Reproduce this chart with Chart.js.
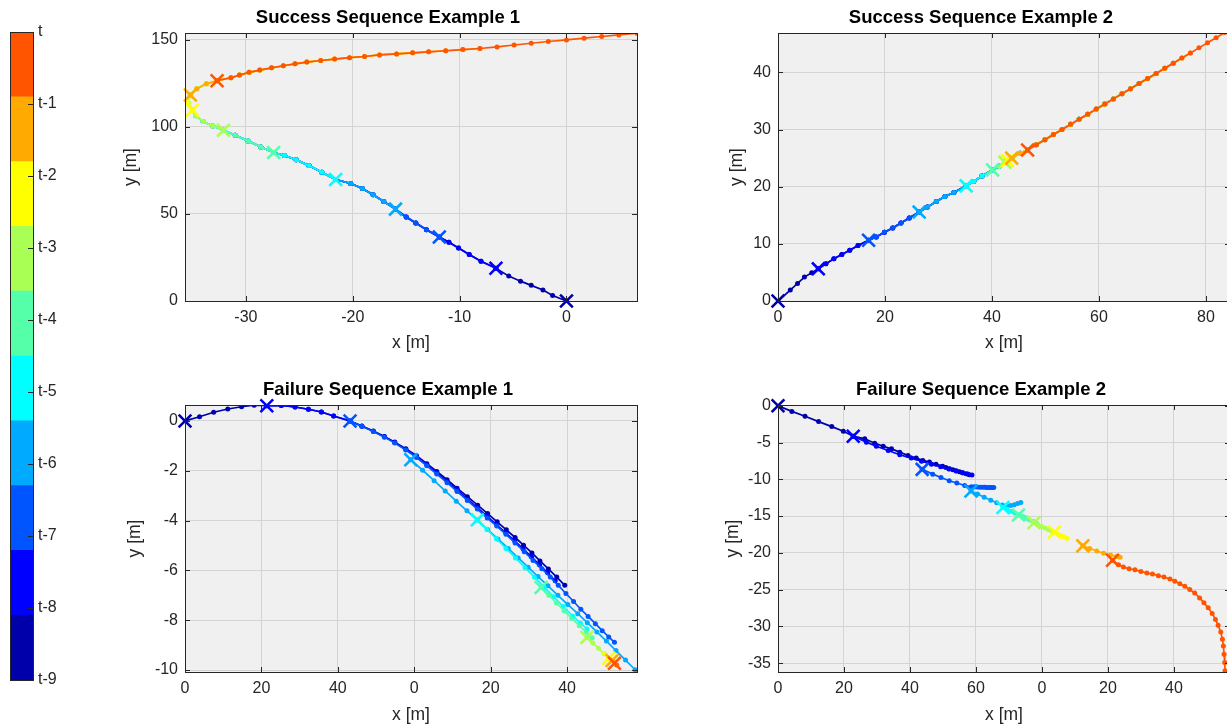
<!DOCTYPE html>
<html>
<head>
<meta charset="utf-8">
<script src="https://cdn.jsdelivr.net/npm/chart.js@4.4.1/dist/chart.umd.min.js"></script>
<style>
  body { margin: 0; background: #fff; overflow: hidden; }
  #fig { position: relative; width: 1227px; height: 727px; overflow: hidden; }
  canvas { position: absolute; }
</style>
</head>
<body>
<div id="fig">
  <canvas id="cb" width="110" height="727" style="left:0;top:0"></canvas>
  <canvas id="s1" width="576" height="360" style="left:100px;top:0"></canvas>
  <canvas id="s2" width="576" height="360" style="left:693px;top:0"></canvas>
  <canvas id="f1" width="576" height="355" style="left:100px;top:372px"></canvas>
  <canvas id="f2" width="576" height="355" style="left:693px;top:372px"></canvas>
</div>
<script>
// couleurs "jet" de t-9 (bas) à t (haut)
const jetColors = ['#0000AA', '#0000FF', '#0055FF', '#00AAFF', '#00FFFF', '#55FFAA', '#AAFF55', '#FFFF00', '#FFAA00', '#FF5500'];
const cbLabels = ['t-9', 't-8', 't-7', 't-6', 't-5', 't-4', 't-3', 't-2', 't-1', 't'];
const cbTickVals = [0, 1, 2, 3, 4, 5, 6, 7, 8, 9];
const cbSteps = [0.9, 0.9, 0.9, 0.9, 0.9, 0.9, 0.9, 0.9, 0.9, 0.9];

// --- Success Sequence Example 1 : trajet commun + début/fin de chaque prédiction
const s1PathX = [0, -1.3, -2.2, -3.3, -4.3, -5.4, -6.6, -8.0, -9.1, -10.1, -11.0, -11.9, -13.1, -14.1, -15.0, -16.0, -17.1, -18.1, -19.1, -20.2, -21.6, -22.9, -24.1, -25.3, -26.4, -27.4, -28.6, -29.8, -31.0, -32.1, -33.1, -34.0, -34.7, -35.0, -35.4, -35.2, -34.6, -33.7, -32.7, -31.4, -30.6, -29.7, -28.7, -27.6, -26.5, -25.4, -24.3, -23.0, -21.7, -20.3, -18.9, -17.5, -15.9, -14.4, -12.9, -11.3, -9.7, -8.1, -6.5, -4.9, -3.3, -1.7, 0, 1.65, 3.3, 4.9, 6.6, 8.3];
const s1PathY = [0, 3.2, 6.3, 9, 11.4, 14.3, 18.8, 22.9, 26.7, 30.4, 33.7, 36.8, 41, 44.8, 48.3, 52.8, 57.2, 61, 64.6, 67.5, 69.8, 74.0, 77.8, 81.2, 83.6, 85.3, 88.5, 92.0, 95.2, 98.1, 100.6, 103.2, 106.4, 109.6, 113.5, 118.4, 122, 124.8, 126.6, 128.3, 129.8, 131.4, 132.7, 134, 135.2, 136.3, 137.3, 138.2, 139, 139.8, 140.5, 141.4, 142, 142.6, 143.2, 143.8, 144.5, 145.1, 146, 147.1, 148.1, 149.1, 150, 151, 152, 152.9, 153.9, 154.9];
const s1Start = [0, 6, 11, 15, 20, 25, 29, 33, 35, 38];
const s1End = [24, 28, 31, 34, 37, 42, 47, 53, 57, 67];
const s1XTicks = [-30, -20, -10, 0];
const s1YTicks = [0, 50, 100, 150];

// --- Success Sequence Example 2
const s2PathX = [0, 2.3, 3.65, 4.94, 6.3, 7.54, 8.96, 10.44, 11.93, 13.41, 14.96, 16.93, 18.36, 19.9, 21.45, 22.99, 24.54, 26.39, 27.94, 29.6, 31.21, 32.88, 35.17, 36.59, 38.13, 40.11, 41.3, 42.4, 42.9, 43.7, 45.24, 46.66, 48.3, 49.9, 51.5, 53.1, 54.7, 56.3, 57.9, 59.5, 61.1, 62.7, 64.3, 65.9, 67.5, 69.1, 70.7, 72.3, 73.9, 75.5, 77.1, 78.7, 80.3, 81.9, 83.5, 85.1];
const s2PathY = [0, 1.92, 3.08, 4.18, 4.94, 5.63, 6.5, 7.38, 8.13, 8.88, 9.7, 10.63, 11.21, 12.02, 12.78, 13.65, 14.52, 15.56, 16.43, 17.42, 18.29, 18.99, 20.15, 20.91, 21.89, 22.94, 23.6, 24.3, 24.6, 25.0, 25.84, 26.42, 27.34, 28.23, 29.12, 30.01, 30.91, 31.8, 32.69, 33.58, 34.48, 35.37, 36.26, 37.16, 38.05, 38.94, 39.83, 40.73, 41.62, 42.51, 43.4, 44.3, 45.19, 46.08, 46.97, 47.87];
const s2Start = [0, 5, 11, 17, 22, 25, 27, 28, 29, 31];
const s2End = [30, 40, 48, 46, 44, 45, 47, 49, 50, 55];
const s2XTicks = [0, 20, 40, 60, 80];
const s2YTicks = [0, 10, 20, 30, 40];

// --- Failure Sequence Example 1 : une liste par pas de temps (t-9 ... t)
const f1Xs = [
    [0, 3.8, 7.5, 11.2, 14.8, 18.1, 21.4, 25.2, 28.8, 32.3, 35.7, 38.9, 43.2, 46.3, 49.3, 52.2, 54.9, 57.8, 60.6, 63.3, 65.9, 68.6, 71.2, 73.9, 76.6, 79.2, 81.7, 84.1, 86.4, 88.6, 90.8, 92.9, 95.1, 97.3, 99.4],
    [21.4, 25.2, 28.8, 32.3, 35.7, 38.9, 43.2, 46.3, 49.3, 52.2, 54.9, 57.8, 60.6, 63.3, 65.9, 68.6, 71.2, 73.9, 76.5, 79.1, 81.6, 84, 86.3, 88.5, 90.7, 92.8, 94.9, 96.9],
    [43.2, 46.3, 49.3, 52.2, 54.9, 57.8, 60.6, 63.3, 65.9, 68.6, 71.2, 73.9, 76.5, 79.1, 81.6, 84, 86.4, 88.8, 91.1, 93.4, 95.6, 97.7, 99.7, 101.7, 103.6, 105.5, 107.4, 109.2, 110.9, 112.4],
    [59.1, 62.2, 65.2, 68.1, 71, 73.8, 76.5, 79.2, 81.9, 84.6, 87.2, 89.8, 92.4, 95, 97.6, 100.2, 102.8, 105.3, 107.8, 110.3, 112.8, 115.3, 117.8, 120.3],
    [76.5, 79, 81.5, 84, 86.5, 89, 91.5, 94, 96.5, 99, 101.5, 103.5, 105.2],
    [93.2, 95.2, 97.2, 99.2, 101.2, 103.2, 105, 106.6],
    [105.2, 106.7, 108.2, 109.7, 111.1],
    [110.9, 111.7, 112.5],
    [111.8, 112.4],
    [112.4, 113]
];
const f1Ys = [
    [0, 0.17, 0.35, 0.48, 0.57, 0.63, 0.61, 0.62, 0.56, 0.47, 0.36, 0.2, 0, -0.2, -0.4, -0.62, -0.85, -1.12, -1.4, -1.72, -2.03, -2.36, -2.7, -3.04, -3.38, -3.72, -4.05, -4.37, -4.68, -4.99, -5.3, -5.62, -5.94, -6.27, -6.6],
    [0.61, 0.62, 0.56, 0.47, 0.36, 0.2, 0, -0.21, -0.41, -0.63, -0.87, -1.15, -1.44, -1.77, -2.09, -2.43, -2.78, -3.13, -3.48, -3.83, -4.17, -4.5, -4.82, -5.14, -5.46, -5.78, -6.1, -6.42],
    [0, -0.21, -0.42, -0.65, -0.89, -1.17, -1.47, -1.8, -2.13, -2.48, -2.83, -3.19, -3.54, -3.9, -4.22, -4.55, -4.9, -5.25, -5.6, -5.93, -6.27, -6.6, -6.93, -7.25, -7.56, -7.85, -8.14, -8.42, -8.67, -8.89],
    [-1.56, -1.98, -2.4, -2.81, -3.22, -3.61, -3.98, -4.36, -4.74, -5.12, -5.5, -5.87, -6.25, -6.62, -7.0, -7.37, -7.74, -8.1, -8.47, -8.84, -9.22, -9.6, -9.99, -10.38],
    [-3.97, -4.35, -4.73, -5.12, -5.5, -5.89, -6.28, -6.67, -7.06, -7.45, -7.84, -8.12, -8.35],
    [-6.69, -7.0, -7.31, -7.62, -7.93, -8.22, -8.48, -8.7],
    [-8.69, -8.91, -9.13, -9.35, -9.55],
    [-9.53, -9.64, -9.75],
    [-9.62, -9.7],
    [-9.73, -9.8]
];
const f1XTicks = [0, 20, 40, 60, 80, 100];
const f1XText = ['0', '20', '40', '0', '20', '40'];
const f1YTicks = [0, -2, -4, -6, -8, -10];

// --- Failure Sequence Example 2
const f2Xs = [
    [0, 4.2, 8.2, 12.3, 16.3, 19.8, 22.8, 26.3, 29.3, 31.9, 34.4, 36.9, 39.4, 41.9, 43.9, 45.9, 47.9, 49.9, 50.9, 52, 53, 54, 55, 56, 57, 58],
    [22.8, 26.8, 29.8, 33.4, 36.9, 40.4, 43.5, 46.5, 49.3, 51.8, 54, 55.9, 57.5, 58.8],
    [43.7, 46.9, 49.4, 51.9, 54.2, 56.6, 58.6, 59.5, 60.4, 61.2, 62, 62.7, 63.3, 63.9, 64.4, 64.9, 65.4],
    [58.5, 60.5, 62.5, 64.5, 66.3, 68, 69.3, 70.5, 71.6, 72.6, 73.6],
    [68.2, 69.4, 70.6, 71.8, 73, 74.2, 75.3],
    [72.9, 74, 75.1, 76.2, 77.3, 78.3],
    [77.6, 78.7, 79.8, 80.9, 82, 83.1],
    [83.8, 84.8, 85.8, 86.8, 87.6],
    [92.4, 94.5, 96.6, 98.7, 100.8, 102.6, 103.7],
    [101.4, 103.2, 104.7, 106.4, 108.2, 110, 111.8, 113.5, 115.3, 117, 118.8, 120.3, 121.8, 123.3, 124.8, 126.3, 127.8, 129.1, 130.4, 131.6, 132.6, 133.4, 134.2, 134.7, 135, 135.2, 135.4, 135.5, 135.6]
];
const f2Ys = [
    [0, -0.77, -1.44, -2.16, -2.84, -3.47, -4.14, -4.5, -5.09, -5.5, -5.86, -6.31, -6.76, -7.12, -7.43, -7.66, -7.97, -8.24, -8.4, -8.56, -8.7, -8.83, -8.97, -9.1, -9.23, -9.37],
    [-4.14, -4.95, -5.5, -6.08, -6.67, -7.12, -7.55, -7.95, -8.3, -8.6, -8.87, -9.1, -9.28, -9.42],
    [-8.65, -9.3, -9.75, -10.2, -10.5, -10.85, -11.0, -11.03, -11.05, -11.07, -11.08, -11.09, -11.1, -11.11, -11.12, -11.12, -11.13],
    [-11.6, -12.0, -12.45, -12.84, -13.2, -13.5, -13.6, -13.55, -13.45, -13.3, -13.15],
    [-13.83, -14.08, -14.33, -14.58, -14.83, -15.05, -15.25],
    [-14.86, -15.08, -15.3, -15.52, -15.72, -15.9],
    [-15.9, -16.15, -16.4, -16.63, -16.85, -17.05],
    [-17.2, -17.45, -17.65, -17.85, -18.0],
    [-19.05, -19.4, -19.75, -20.05, -20.3, -20.5, -20.6],
    [-21.0, -21.62, -21.94, -22.16, -22.3, -22.52, -22.75, -22.88, -23.1, -23.29, -23.56, -23.87, -24.19, -24.55, -25, -25.45, -26.13, -26.8, -27.48, -28.24, -29.05, -29.86, -30.77, -31.76, -32.66, -33.78, -34.9, -36.04, -37.2]
];
const f2XTicks = [0, 20, 40, 60, 80, 100, 120];
const f2XText = ['0', '20', '40', '60', '0', '20', '40'];
const f2YTicks = [0, -5, -10, -15, -20, -25, -30, -35];

const FONT = "'Liberation Sans', Arial, Helvetica, sans-serif";
const TXT = '#262626';
Chart.defaults.font.family = FONT;

// Découpe le trajet commun pour chaque prédiction
function slicePath(px, py, starts, ends) {
    return starts.map((s, k) => {
        const pts = [];
        for (let i = s; i <= ends[k]; i++) pts.push({ x: px[i], y: py[i] });
        return pts;
    });
}

function toPoints(xs, ys) {
    return xs.map((list, k) => list.map((x, i) => ({ x: x, y: ys[k][i] })));
}

// fond gris + cadre noir + graduations vers l'intérieur (style MATLAB)
const axesBox = {
    id: 'axesBox',
    beforeDraw(chart) {
        const a = chart.chartArea, ctx = chart.ctx;
        ctx.save();
        ctx.fillStyle = '#F0F0F0';
        ctx.fillRect(a.left, a.top, a.right - a.left, a.bottom - a.top);
        ctx.restore();
    },
    afterDraw(chart) {
        const a = chart.chartArea, ctx = chart.ctx;
        const xs = chart.scales.x, ys = chart.scales.y;
        ctx.save();
        ctx.strokeStyle = TXT;
        ctx.lineWidth = 1;
        ctx.beginPath();
        xs.ticks.forEach(t => {
            const p = Math.round(xs.getPixelForValue(t.value)) + 0.5;
            ctx.moveTo(p, a.bottom); ctx.lineTo(p, a.bottom - 5);
            ctx.moveTo(p, a.top); ctx.lineTo(p, a.top + 5);
        });
        ys.ticks.forEach(t => {
            const p = Math.round(ys.getPixelForValue(t.value)) + 0.5;
            ctx.moveTo(a.left, p); ctx.lineTo(a.left + 5, p);
            ctx.moveTo(a.right, p); ctx.lineTo(a.right - 5, p);
        });
        ctx.stroke();
        ctx.strokeRect(Math.round(a.left) + 0.5, Math.round(a.top) + 0.5, Math.round(a.right - a.left), Math.round(a.bottom - a.top));
        ctx.restore();
    }
};

function makePanel(id, title, trajs, ax) {
    const datasets = trajs.map((pts, k) => ({
        data: pts,
        showLine: true,
        borderColor: jetColors[k],
        backgroundColor: jetColors[k],
        borderWidth: 1.7,
        pointRadius: 2.5,
        pointBorderWidth: 0,
        pointBackgroundColor: jetColors[k],
        order: 10 - k
    }));
    // croix au départ de chaque prédiction
    datasets.push({
        data: trajs.map(p => p[0]),
        showLine: false,
        pointStyle: 'crossRot',
        pointRadius: 9,
        pointBorderWidth: 2.6,
        pointBorderColor: jetColors,
        pointBackgroundColor: jetColors,
        clip: false,
        order: 0
    });

    const tickFont = { size: 16, lineHeight: '18px' };
    const labelFont = { size: 17.5, lineHeight: '20px' };
    new Chart(document.getElementById(id), {
        type: 'scatter',
        data: { datasets: datasets },
        options: {
            responsive: false,
            animation: false,
            devicePixelRatio: 1,
            layout: { padding: 0 },
            plugins: {
                legend: { display: false },
                tooltip: { enabled: false },
                title: {
                    display: true,
                    text: title,
                    color: '#000',
                    font: { size: 18.5, weight: 'bold', lineHeight: '20px' },
                    padding: { top: 8, bottom: 5 }
                }
            },
            scales: {
                x: {
                    type: 'linear', min: ax.xMin, max: ax.xMax,
                    afterBuildTicks: s => { s.ticks = ax.xTicks.map(v => ({ value: v })); },
                    afterFit: s => { s.height = ax.xH; },
                    ticks: {
                        autoSkip: false, maxRotation: 0, color: TXT, font: tickFont, padding: 8,
                        callback: (v, i) => ax.xText ? ax.xText[i] : String(v)
                    },
                    grid: { color: '#D4D4D4', drawTicks: false },
                    border: { display: false },
                    title: { display: true, text: 'x [m]', color: TXT, font: labelFont, padding: { top: 0, bottom: ax.xTitlePad } }
                },
                y: {
                    type: 'linear', min: ax.yMin, max: ax.yMax,
                    afterBuildTicks: s => { s.ticks = ax.yTicks.map(v => ({ value: v })); },
                    afterFit: s => { s.width = 85; },
                    ticks: { autoSkip: false, color: TXT, font: tickFont, padding: 7 },
                    grid: { color: '#D4D4D4', drawTicks: false },
                    border: { display: false },
                    title: { display: true, text: 'y [m]', color: TXT, font: labelFont, padding: { top: ax.yTitlePad, bottom: 0 } }
                },
                // axe vide à droite : place le titre comme dans la figure d'origine
                yR: {
                    position: 'right', min: 0, max: 1,
                    afterFit: s => { s.width = 39; },
                    ticks: { display: false },
                    grid: { display: false },
                    border: { display: false }
                }
            }
        },
        plugins: [axesBox]
    });
}

makePanel('s1', 'Success Sequence Example 1', slicePath(s1PathX, s1PathY, s1Start, s1End), {
    xMin: -35.7, xMax: 6.6, yMin: 0, yMax: 154, xTicks: s1XTicks, yTicks: s1YTicks,
    xH: 59, xTitlePad: 7, yTitlePad: 21
});
makePanel('s2', 'Success Sequence Example 2', slicePath(s2PathX, s2PathY, s2Start, s2End), {
    xMin: 0, xMax: 84.5, yMin: 0, yMax: 46.9, xTicks: s2XTicks, yTicks: s2YTicks,
    xH: 59, xTitlePad: 7, yTitlePad: 34
});
makePanel('f1', 'Failure Sequence Example 1', toPoints(f1Xs, f1Ys), {
    xMin: 0, xMax: 118.3, yMin: -10.08, yMax: 0.64, xTicks: f1XTicks, xText: f1XText, yTicks: f1YTicks,
    xH: 55, xTitlePad: 2, yTitlePad: 25
});
makePanel('f2', 'Failure Sequence Example 2', toPoints(f2Xs, f2Ys), {
    xMin: 0, xMax: 137, yMin: -36.2, yMax: 0.1, xTicks: f2XTicks, xText: f2XText, yTicks: f2YTicks,
    xH: 55, xTitlePad: 2, yTitlePad: 30
});

// barre de couleurs à gauche
const cbFrame = {
    id: 'cbFrame',
    afterDraw(chart) {
        const a = chart.chartArea, ctx = chart.ctx, ys = chart.scales.y;
        ctx.save();
        ctx.strokeStyle = TXT;
        ctx.lineWidth = 1;
        ctx.beginPath();
        ys.ticks.forEach(t => {
            const p = Math.round(ys.getPixelForValue(t.value)) + 0.5;
            ctx.moveTo(a.right, p); ctx.lineTo(a.right - 5, p);
        });
        ctx.stroke();
        ctx.strokeRect(Math.round(a.left) + 0.5, Math.round(a.top) + 0.5, Math.round(a.right - a.left), Math.round(a.bottom - a.top));
        ctx.restore();
    }
};

new Chart(document.getElementById('cb'), {
    type: 'bar',
    data: {
        labels: [''],
        datasets: cbSteps.map((v, k) => ({
            data: [v], backgroundColor: jetColors[k], borderWidth: 0,
            barPercentage: 1, categoryPercentage: 1
        }))
    },
    options: {
        responsive: false,
        animation: false,
        devicePixelRatio: 1,
        layout: { padding: { left: 10, top: 32, bottom: 47, right: 0 } },
        plugins: { legend: { display: false }, tooltip: { enabled: false } },
        scales: {
            x: { display: false, stacked: true },
            y: {
                stacked: true, min: 0, max: 9, position: 'right',
                afterBuildTicks: s => { s.ticks = cbTickVals.map(v => ({ value: v })); },
                afterFit: s => { s.width = 77; },
                ticks: { color: TXT, font: { size: 16 }, padding: 5, callback: (v, i) => cbLabels[i] },
                grid: { display: false, drawTicks: false },
                border: { display: false }
            }
        }
    },
    plugins: [cbFrame]
});
</script>
</body>
</html>
